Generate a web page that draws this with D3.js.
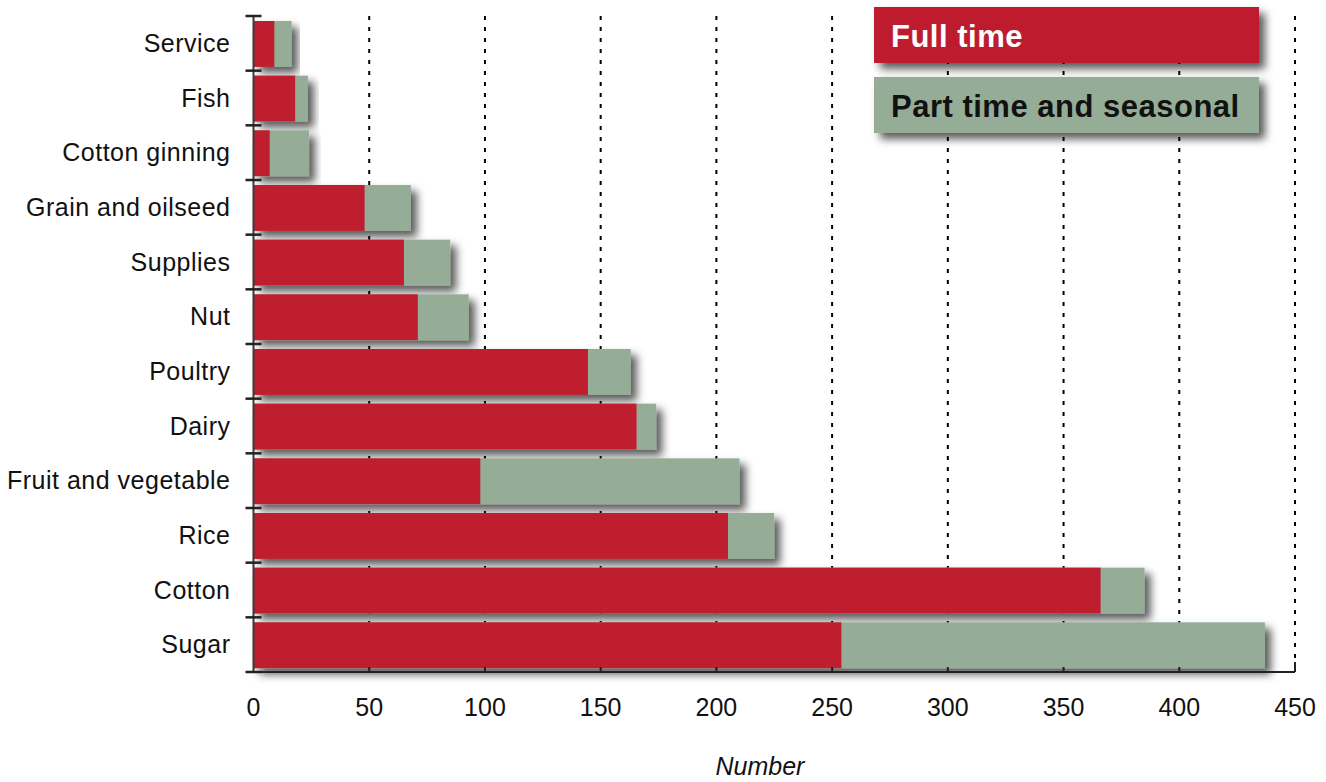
<!DOCTYPE html>
<html>
<head>
<meta charset="utf-8">
<script src="https://cdn.jsdelivr.net/npm/d3@7"></script>
<style>
  body { margin: 0; background: #fff; }
  svg { display: block; }
  text { font-family: "Liberation Sans", Arial, sans-serif; }
</style>
</head>
<body>
<svg id="chart" width="1326" height="782"></svg>
<script>
// Cooperative categories, top to bottom
const categories = ["Service", "Fish", "Cotton ginning", "Grain and oilseed", "Supplies", "Nut",
  "Poultry", "Dairy", "Fruit and vegetable", "Rice", "Cotton", "Sugar"];
// Full-time employees per category
const fullTime = [9, 18, 7, 48, 65, 71, 144.5, 165.5, 98, 205, 366, 254];
// Part-time and seasonal employees per category
const partTime = [7.5, 5.5, 17, 20, 20, 22, 18.5, 8.5, 112, 20, 19, 183];
const seriesNames = ["Full time", "Part time and seasonal"];
const seriesColors = ["#BE1E2D", "#95AD96"];
const xTicks = [0, 50, 100, 150, 200, 250, 300, 350, 400, 450];
const xTitle = "Number";

const svg = d3.select("#chart");
const margin = { left: 253.5, right: 31, top: 16, bottom: 110 };
const W = 1326, H = 782;

const x = d3.scaleLinear().domain([0, 450]).range([margin.left, W - margin.right]);
const y = d3.scaleBand().domain(categories).range([margin.top, H - margin.bottom])
  .paddingInner(0.16).paddingOuter(0.08).align(0.57);

// soft drop shadow used by bars and legend boxes
const defs = svg.append("defs");
const f = defs.append("filter").attr("id", "shadow")
  .attr("x", "-10%").attr("y", "-30%").attr("width", "130%").attr("height", "180%");
f.append("feDropShadow").attr("dx", 6).attr("dy", 6).attr("stdDeviation", 4.5)
  .attr("flood-color", "#000").attr("flood-opacity", 0.65);

// dotted vertical gridlines
svg.append("g").selectAll("line").data(xTicks.slice(1)).join("line")
  .attr("x1", d => x(d)).attr("x2", d => x(d))
  .attr("y1", margin.top).attr("y2", H - margin.bottom)
  .attr("stroke", "#000").attr("stroke-width", 2).attr("stroke-dasharray", "4,7");

// stacked bars
const rows = categories.map((c, i) => ({ c, ft: fullTime[i], pt: partTime[i] }));
const g = svg.append("g").selectAll("g").data(rows).join("g");
g.append("rect")
  .attr("x", x(0)).attr("y", d => y(d.c))
  .attr("width", d => x(d.ft + d.pt) - x(0)).attr("height", y.bandwidth())
  .attr("fill", seriesColors[1]).attr("filter", "url(#shadow)");
g.append("rect")
  .attr("x", x(0)).attr("y", d => y(d.c))
  .attr("width", d => x(d.ft) - x(0)).attr("height", y.bandwidth())
  .attr("fill", seriesColors[0]);

// y axis
const axisColor = "#222";
const nB = categories.length;
const boundaries = d3.range(nB + 1).map(i => margin.top + i * ((H - margin.bottom - margin.top) / nB));
svg.append("line").attr("x1", x(0)).attr("x2", x(0))
  .attr("y1", margin.top).attr("y2", H - margin.bottom)
  .attr("stroke", "#3a3a3a").attr("stroke-width", 2);
svg.append("g").selectAll("line").data(boundaries).join("line")
  .attr("x1", x(0) - 8).attr("x2", x(0) + 8)
  .attr("y1", d => d).attr("y2", d => d)
  .attr("stroke", axisColor).attr("stroke-width", 2.5);
svg.append("g").selectAll("text").data(categories).join("text")
  .attr("x", 230.5).attr("y", d => y(d) + y.bandwidth() / 2 + 8)
  .attr("text-anchor", "end").attr("letter-spacing", 0.5)
  .attr("font-size", 25).attr("fill", "#111").text(d => d);

// x axis
const xAxisY = H - margin.bottom;
svg.append("line").attr("x1", x(0)).attr("x2", x(450))
  .attr("y1", xAxisY).attr("y2", xAxisY)
  .attr("stroke", axisColor).attr("stroke-width", 2);
svg.append("g").selectAll("line").data(xTicks.slice(1)).join("line")
  .attr("x1", d => x(d)).attr("x2", d => x(d))
  .attr("y1", xAxisY).attr("y2", d => xAxisY - (d === 450 ? 10 : 5))
  .attr("stroke", axisColor).attr("stroke-width", 2);
svg.append("g").selectAll("text").data(xTicks).join("text")
  .attr("x", d => x(d)).attr("y", 716)
  .attr("text-anchor", "middle")
  .attr("font-size", 25).attr("fill", "#111").text(d => d);
svg.append("text").attr("x", 760).attr("y", 775)
  .attr("text-anchor", "middle")
  .attr("font-size", 25).attr("font-style", "italic").attr("fill", "#111").text(xTitle);

// legend
const legend = svg.append("g").selectAll("g").data(seriesNames).join("g")
  .attr("transform", (d, i) => `translate(874, ${7 + i * 70})`);
legend.append("rect").attr("width", 385).attr("height", 56)
  .attr("fill", (d, i) => seriesColors[i]).attr("filter", "url(#shadow)");
legend.append("text").attr("x", 17).attr("y", 40)
  .attr("font-size", 31).attr("font-weight", "bold").attr("letter-spacing", 0.5)
  .attr("fill", (d, i) => i === 0 ? "#fff" : "#111").text(d => d);
</script>
</body>
</html>
